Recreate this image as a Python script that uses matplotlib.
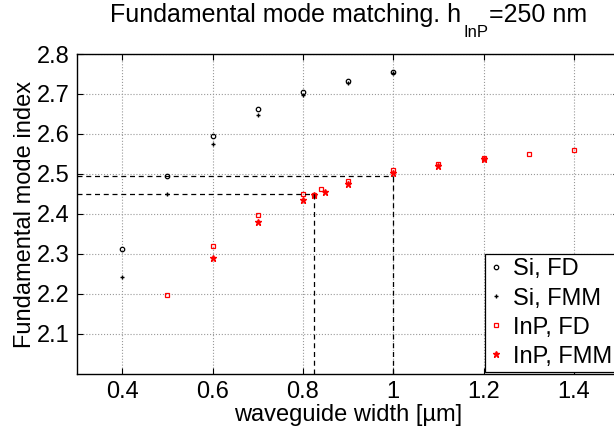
import matplotlib
matplotlib.use("Agg")
import matplotlib.pyplot as plt

plt.rcParams.update({
    "font.family": ["Liberation Sans", "DejaVu Sans"],
    "font.size": 17,
    "xtick.direction": "in",
    "ytick.direction": "in",
    "xtick.top": True,
    "ytick.right": True,
})

# Si waveguide
si_w = [0.4, 0.5, 0.6, 0.7, 0.8, 0.9, 1.0]
si_fd = [2.312, 2.495, 2.596, 2.662, 2.704, 2.733, 2.755]
si_fmm = [2.242, 2.450, 2.575, 2.648, 2.697, 2.727, 2.752]

# InP waveguide
inp_fd_w = [0.5, 0.6, 0.7, 0.8, 0.825, 0.84, 0.9, 1.0, 1.1, 1.2, 1.3, 1.4]
inp_fd = [2.197, 2.321, 2.398, 2.449, 2.448, 2.463, 2.483, 2.509, 2.525, 2.540, 2.551, 2.560]
inp_fmm_w = [0.6, 0.7, 0.8, 0.825, 0.85, 0.9, 1.0, 1.1, 1.2]
inp_fmm = [2.291, 2.379, 2.435, 2.447, 2.456, 2.475, 2.502, 2.521, 2.537]

# matching points (width, index)
match_w = [0.825, 1.0]
match_n = [2.451, 2.495]

W, H = 614, 433
fig = plt.figure(figsize=(W / 100, H / 100), dpi=100)
ax = fig.add_axes([77 / W, 59 / H, 542 / W, 320 / H])

ax.plot(si_w, si_fd, "o", ls="none", mfc="none", mec="k", ms=3.2, mew=0.9, label="Si, FD")
ax.plot(si_w, si_fmm, "+", ls="none", color="k", ms=3, mew=1.0, label="Si, FMM")
ax.plot(inp_fd_w, inp_fd, "s", ls="none", mfc="none", mec="red", ms=3.2, mew=0.9, label="InP, FD")
ax.plot(inp_fmm_w, inp_fmm, "*", ls="none", color="red", ms=4.5, label="InP, FMM")

for w, n in zip(match_w, match_n):
    ax.plot([0.3, w], [n, n], "k--", lw=0.9, dashes=(4, 3))
    ax.plot([w, w], [2.0, n], "k--", lw=0.9, dashes=(4, 3))

ax.set_xlim(0.3, 1.5)
ax.set_ylim(2.0, 2.8)
ax.set_xticks([0.4, 0.6, 0.8, 1.0, 1.2, 1.4])
ax.set_xticklabels(["0.4", "0.6", "0.8", "1", "1.2", "1.4"])
ax.set_yticks([2.1, 2.2, 2.3, 2.4, 2.5, 2.6, 2.7, 2.8])
ax.grid(True, ls=":", color="0.6", lw=0.8)
ax.tick_params(length=4, width=0.8, pad=5)
for s in ax.spines.values():
    s.set_linewidth(1.0)

ax.set_xlabel("waveguide width [µm]", labelpad=1)
ax.set_ylabel("Fundamental mode index", labelpad=1)

leg = ax.legend(loc="lower left", bbox_to_anchor=(0.753, 0.005), frameon=True,
                fancybox=False, edgecolor="k", framealpha=1, handlelength=0.5,
                handletextpad=0.5, borderpad=0.2, labelspacing=0.3, borderaxespad=0)
leg.get_frame().set_linewidth(0.9)

# title in three pieces: MATLAB-style subscript sits well below the baseline
renderer = fig.canvas.get_renderer()
t1 = fig.text(110 / W, 1 - 22 / H, "Fundamental mode matching. h",
              fontsize=18, va="baseline", ha="left")
x1 = t1.get_window_extent(renderer).x1
t2 = fig.text((x1 + 2) / W, 1 - 37 / H, "InP", fontsize=12, va="baseline", ha="left")
x2 = t2.get_window_extent(renderer).x1
fig.text((x2 + 1) / W, 1 - 22 / H, "=250 nm", fontsize=18, va="baseline", ha="left")

fig.savefig("out.png", dpi=100)
